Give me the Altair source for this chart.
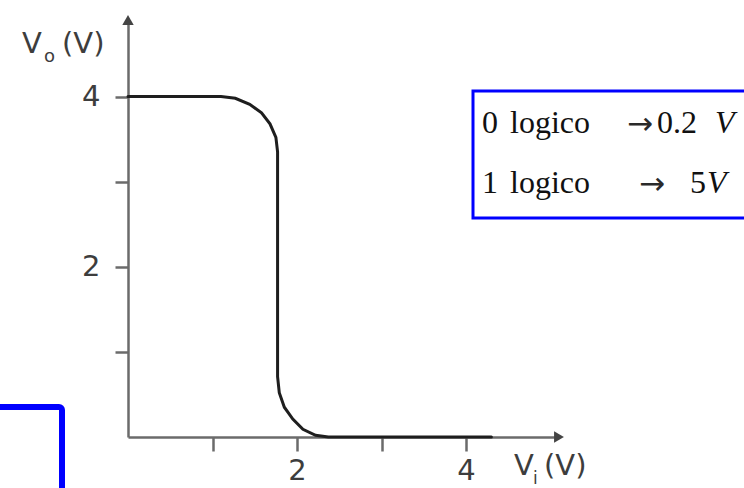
import altair as alt
import pandas as pd

# Transfer characteristic V_o(V_i): flat high level, sharp transition, flat low level
vi = [0.00, 1.10, 1.27, 1.44, 1.58, 1.68, 1.75, 1.77, 1.77, 1.79, 1.85, 1.95, 2.07, 2.22, 2.37, 4.30]
vo = [4.00, 4.00, 3.98, 3.91, 3.81, 3.68, 3.52, 3.35, 0.71, 0.52, 0.35, 0.21, 0.09, 0.02, 0.00, 0.00]

tick_values = [1, 2, 3, 4]
x_max = 5.1
y_max = 4.9

# Logic level table
logic_digits = ["0", "1"]
logic_word = "logico"
logic_volts = ["0.2", "5"]
unit = "V"

PADL, PADT = 128, 20
W, H = 431, 417
PADR, PADB = 744 - PADL - W, 488 - PADT - H

AXIS_GREY = "#6b6b6b"
TEXT_GREY = "#3d3d3d"
SANS = "DejaVu Sans"
SERIF = "Liberation Serif"

curve_df = pd.DataFrame({"vi": vi, "vo": vo, "i": range(len(vi))})

x_scale = alt.Scale(domain=[0, x_max], nice=False, zero=True)
y_scale = alt.Scale(domain=[0, y_max], nice=False, zero=True)

label_expr = "datum.value % 2 == 0 ? format(datum.value, 'd') : ''"

curve = alt.Chart(curve_df).mark_line(color="#1e1e1e", strokeWidth=3, strokeCap="round").encode(
    x=alt.X("vi:Q", scale=x_scale, axis=alt.Axis(
        values=tick_values, title=None, grid=False, labelExpr=label_expr,
        tickSize=14, labelPadding=5, labelFont=SANS, labelFontSize=29,
        labelColor=TEXT_GREY, labelFlush=False)),
    y=alt.Y("vo:Q", scale=y_scale, axis=alt.Axis(
        values=tick_values, title=None, grid=False, labelExpr=label_expr,
        tickSize=13, labelPadding=15, labelFont=SANS, labelFontSize=29,
        labelColor=TEXT_GREY, labelFlush=False)),
    order="i:O",
)

# Arrow heads at the ends of both axes
arrows_df = pd.DataFrame({"vi": [x_max, 0.0], "vo": [0.0, y_max],
                          "shape": ["triangle-right", "triangle-up"]})
arrows = alt.Chart(arrows_df).mark_point(filled=True, size=130, color="#444444", opacity=1).encode(
    x=alt.X("vi:Q", scale=x_scale),
    y=alt.Y("vo:Q", scale=y_scale),
    shape=alt.Shape("shape:N", scale=None),
)

one = pd.DataFrame({"k": [0]})


def text(txt, px, py, size, font=SANS, color=TEXT_GREY, style="normal", baseline="alphabetic"):
    return alt.Chart(one).mark_text(
        text=txt, align="left", baseline=baseline, font=font, fontSize=size,
        color=color, fontStyle=style,
    ).encode(x=alt.value(px - PADL), y=alt.value(py - PADT))


def box(x0, y0, x1, y1, width, radius=0):
    return alt.Chart(one).mark_rect(
        fill="white", fillOpacity=0, stroke="#0000ff", strokeWidth=width, cornerRadius=radius,
    ).encode(x=alt.value(x0 - PADL), x2=alt.value(x1 - PADL),
             y=alt.value(y0 - PADT), y2=alt.value(y1 - PADT))


# Axis titles with subscripts
titles = [
    text("V", 22, 53, 29), text("o", 44, 62, 18), text("(V)", 62, 53, 29),
    text("V", 514, 475, 29), text("i", 533, 484, 17), text("(V)", 544, 475, 29),
]

# Logic level table in a blue frame
INK = "#111111"
legend_layers = [box(473, 91, 790, 218, 3)]
row_base = [133, 193]
arrow_x = [627, 639]
volt_x = [657, 690]
unit_x = [715, 707]
for r in range(2):
    b = row_base[r]
    legend_layers += [
        text(logic_digits[r], 482, b, 32, font=SERIF, color=INK),
        text(logic_word, 510, b, 32, font=SERIF, color=INK),
        text("\u2192", arrow_x[r], b + 1, 31, font="DejaVu Sans", color="#2a2a2a"),
        text(logic_volts[r], volt_x[r], b, 32, font=SERIF, color=INK),
        text(unit, unit_x[r], b, 32, font=SERIF, color=INK, style="italic"),
    ]

# Partial frame at the lower left
frame = box(-40, 407, 62, 560, 6, radius=3)

chart = alt.layer(frame, *legend_layers, curve, arrows, *titles).properties(
    width=W, height=H,
    autosize=alt.AutoSizeParams(type="none"),
    padding={"left": PADL, "top": PADT, "right": PADR, "bottom": PADB},
    background="white",
).configure_view(stroke=None).configure_axis(
    domainColor=AXIS_GREY, domainWidth=2.5, tickColor=AXIS_GREY, tickWidth=2.5,
)

chart.save("out.html", embed_options={"renderer": "svg", "actions": False})
